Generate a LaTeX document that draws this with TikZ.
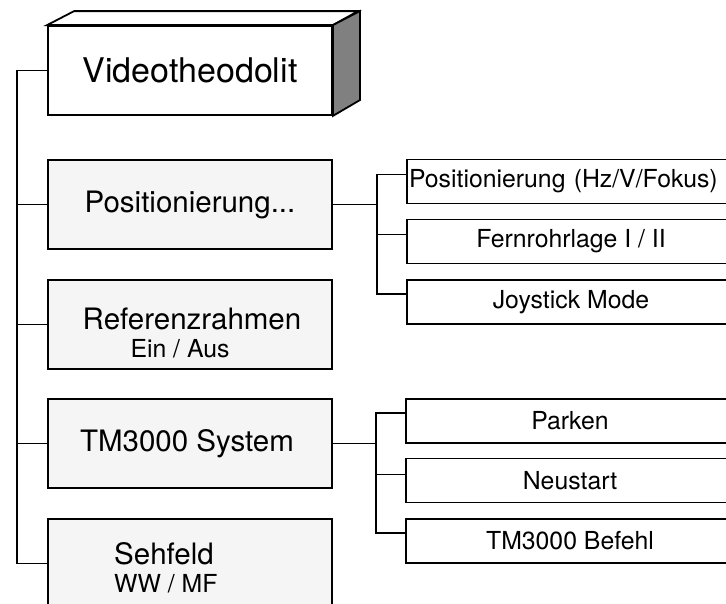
\documentclass[tikz,border=0pt]{standalone}
\usepackage{fontspec}
\setmainfont{TeX Gyre Heros}
\usetikzlibrary{positioning}

\newcommand{\bigfnt}{\fontsize{34}{38}\selectfont}
\newcommand{\mainfnt}{\fontsize{29.5}{28}\selectfont}
\newcommand{\subfnt}{\fontsize{24.8}{28}\selectfont}

\tikzset{
  wire/.style={line width=1.8pt},
  mainbox/.style={draw, line width=1.8pt, fill=black!4, minimum width=284pt, minimum height=89pt, inner sep=0pt, align=center, font=\mainfnt},
  subbox/.style={draw, line width=1.8pt, fill=white, minimum width=328pt, minimum height=44pt, inner sep=0pt, font=\subfnt},
  boxtext/.style={inner sep=0pt, font=\mainfnt},
}

\begin{document}
\begin{tikzpicture}[x=1pt,y=-1pt]
            \useasboundingbox (0,0) rectangle (726,603);
            \clip (0,0) rectangle (726,603);

            % Hauptmenue
            \node[mainbox, fill=white, font=\bigfnt] (video) at (190,70.5) {Videotheodolit};
            \node[mainbox] (posi) at (190,204.5) {Positionierung...};
            \node[mainbox] (refz) at (190,324.5) {};
            \node[boxtext, align=center] (reftxt) at (192,333) {Referenzrahmen\\{\subfnt Ein / Aus\rule{24pt}{0pt}}};
            \node[mainbox] (tmsys) at (190,443.5) {TM3000 System\rule{6pt}{0pt}};
            \node[mainbox] (sehf) at (190,563.5) {};
            \node[boxtext, anchor=west, align=left] (sehtxt) at (114,568) {Sehfeld\\{\subfnt WW / MF}};

            % Quader
            \draw[line width=1.8pt, fill=white] (video.north west) -- ++(27,-14) -- ++(284,0) -- (video.north east) -- cycle;
            \draw[line width=1.8pt, fill=black!50] (video.north east) -- ++(27,-14) -- ++(0,89) -- (video.south east) -- cycle;

            % Untermenue Positionierung
            \node[subbox, text width=324pt, inner xsep=2pt, align=left] (hzv) at (571,181.5) {Positionierung (Hz/V/Fokus)};
            \node[subbox] (fern) at (571,241.5) {Fernrohrlage I / II};
            \node[subbox] (joy) at (571,302) {Joystick Mode};

            % Untermenue TM3000
            \node[subbox] (park) at (570,421) {Parken};
            \node[subbox] (neu) at (570,480.5) {Neustart};
            \node[subbox] (befehl) at (570,541) {TM3000 Befehl};

            % Verbindungen
            \coordinate (trunk) at (17,0);
            \coordinate (forka) at (377,0);
            \coordinate (forkb) at (376,0);
            \coordinate (hzin) at ([yshift=7pt]hzv.west);
            \coordinate (fernin) at ([yshift=7pt]fern.west);
            \coordinate (joyin) at ([yshift=8pt]joy.west);
            \coordinate (parkin) at ([yshift=8pt]park.west);
            \coordinate (neuin) at ([yshift=6pt]neu.west);
            \coordinate (befin) at ([yshift=8pt]befehl.west);

            \draw[wire] (video.west) -| (trunk |- sehf.west) -- (sehf.west);
            \draw[wire] (posi.west) -- (posi.west -| trunk);
            \draw[wire] (refz.west) -- (refz.west -| trunk);
            \draw[wire] (tmsys.west) -- (tmsys.west -| trunk);

            \draw[wire] (hzin) -| (forka |- joyin) -- (joyin);
            \draw[wire] (posi.east) -- (posi.east -| forka);
            \draw[wire] (fernin) -- (fernin -| forka);

            \draw[wire] (parkin) -| (forkb |- befin) -- (befin);
            \draw[wire] (tmsys.east) -- (tmsys.east -| forkb);
            \draw[wire] (neuin) -- (neuin -| forkb);
\end{tikzpicture}
\end{document}
